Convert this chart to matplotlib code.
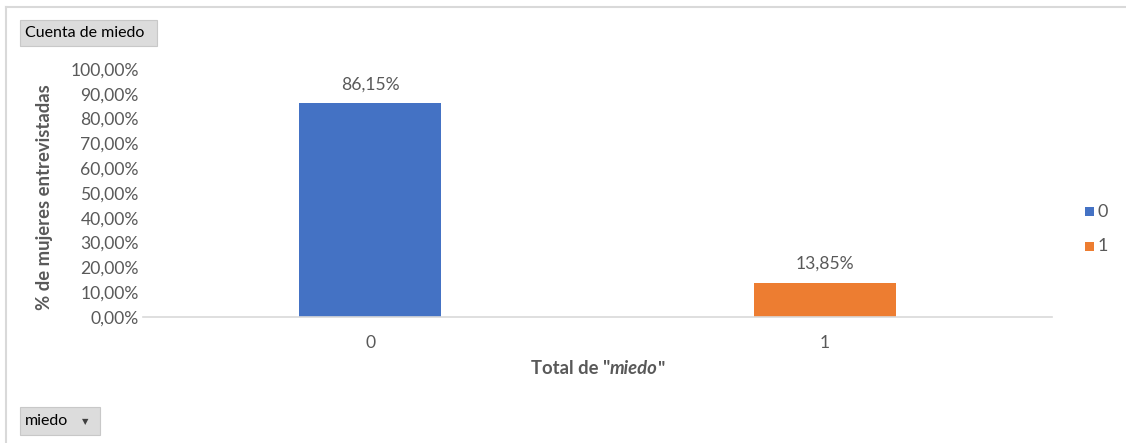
import matplotlib.pyplot as plt
from matplotlib.patches import Rectangle
from matplotlib.lines import Line2D
from matplotlib.ticker import FuncFormatter

plt.rcParams['font.family'] = ['Lato', 'DejaVu Sans']

categorias = ["0", "1"]
porcentajes = [86.15, 13.85]
colores = ["#4472C4", "#ED7D31"]
gris = "#595959"

W, H = 1126, 443
fig = plt.figure(figsize=(W / 100, H / 100), dpi=100)
ax = fig.add_axes([143 / W, 1 - 317 / H, 909 / W, 248 / H])

x = range(len(categorias))
bars = ax.bar(x, porcentajes, width=0.312, color=colores, zorder=2)
for b, v in zip(bars, porcentajes):
    ax.text(b.get_x() + b.get_width() / 2, v + 4.3, f"{v:.2f}%".replace(".", ","),
            ha="center", va="bottom", fontsize=12.6, color=gris)

ax.set_xlim(-0.5, 1.5)
ax.set_ylim(0, 100)
ax.set_yticks(range(0, 101, 10))
ax.yaxis.set_major_formatter(FuncFormatter(lambda v, p: f"{v:.2f}%".replace(".", ",")))
ax.set_xticks(list(x))
ax.set_xticklabels(categorias)
ax.tick_params(axis="both", length=0, labelsize=12.6, labelcolor=gris)
ax.tick_params(axis="x", pad=13)
ax.tick_params(axis="y", pad=3)
for s in ["top", "right", "left"]:
    ax.spines[s].set_visible(False)
ax.spines["bottom"].set_color("#d9d9d9")
ax.spines["bottom"].set_linewidth(1.2)

fig.text(45 / W, 1 - 197 / H, "% de mujeres entrevistadas", rotation=90,
         ha="center", va="center", fontsize=13.3, fontweight="bold", color=gris)

# titulo del eje x con "miedo" en cursiva
fig.canvas.draw()
r = fig.canvas.get_renderer()
partes = [('Total de "', "normal"), ("miedo", "italic"), ('"', "normal")]
textos = [fig.text(0, 1 - 369 / H, t, style=st, fontweight="bold", fontsize=13.3,
                   color=gris, va="center") for t, st in partes]
anchos = [t.get_window_extent(r).width for t in textos]
x0 = 598 - sum(anchos) / 2
for t, w in zip(textos, anchos):
    t.set_x(x0 / W)
    x0 += w

# leyenda
for c, etiqueta, yc in zip(colores, categorias, [212, 246]):
    fig.add_artist(Rectangle((1085 / W, 1 - (yc + 4.5) / H), 9 / W, 9 / H,
                             transform=fig.transFigure, facecolor=c, edgecolor="none"))
    fig.text(1098 / W, 1 - yc / H, etiqueta, va="center", ha="left", fontsize=13, color=gris)

# marco exterior y botones de la tabla dinamica
fig.add_artist(Line2D([6 / W, 1], [1 - 7 / H, 1 - 7 / H], color="#d9d9d9", lw=1.5))
fig.add_artist(Line2D([6 / W, 6 / W], [0, 1 - 7 / H], color="#d9d9d9", lw=1.5))
for (bx, by, bw, bh), etiqueta in [((20, 20, 137, 26), "Cuenta de miedo"), ((20, 407, 80, 28), "miedo")]:
    fig.add_artist(Rectangle((bx / W, 1 - (by + bh) / H), bw / W, bh / H,
                             transform=fig.transFigure, facecolor="#dcdcdc", edgecolor="#c8c8c8", lw=0.8))
    fig.text((bx + 5) / W, 1 - (by + bh / 2) / H, etiqueta, va="center", ha="left",
             fontsize=11.5, color="#000000")
fig.text(85 / W, 1 - 422 / H, "\u25bc", va="center", ha="center", fontsize=6,
         color="#404040", family=["DejaVu Sans"])

fig.savefig("out.png", dpi=100)
